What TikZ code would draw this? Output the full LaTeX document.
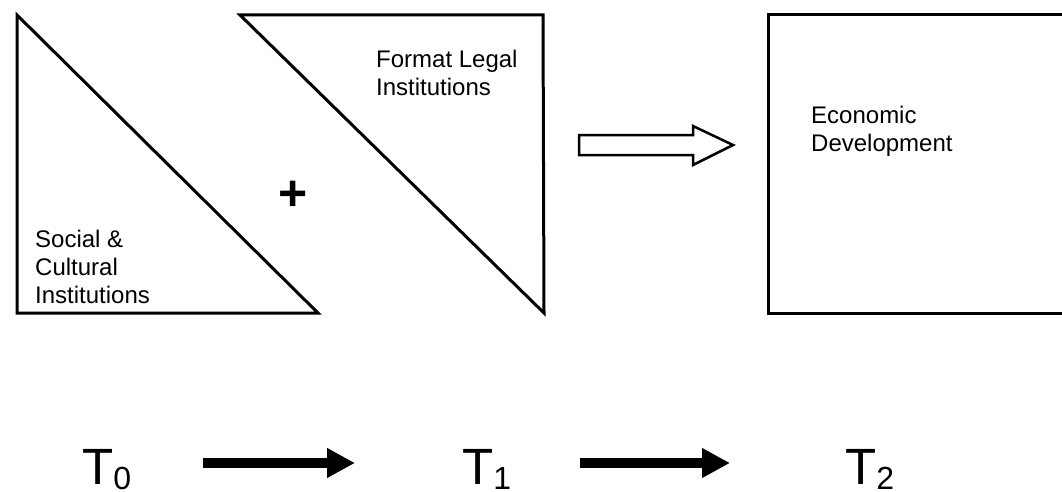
\documentclass[tikz,border=0pt]{standalone}
\usepackage{fontspec}
\setmainfont{Liberation Sans}
\usetikzlibrary{arrows.meta}
\newcommand\tsubscript[1]{\raisebox{-5pt}{\fontsize{32}{32}\selectfont #1}}
\begin{document}
\begin{tikzpicture}[x=1pt,y=-1pt,
  box/.style={line width=3pt, line join=miter},
  lbl/.style={anchor=north west, inner sep=0pt, align=left, font=\fontsize{24}{28}\selectfont},
  tlabel/.style={anchor=base west, inner sep=0pt, font=\fontsize{51}{51}\selectfont},
  timearrow/.style={line width=10pt, -{Triangle[length=28pt,width=28pt]}},
  hollow/.style={line width=2.5pt, line join=miter, fill=white}]
\useasboundingbox (0,0) rectangle (1062,492);
\fill[white] (0,0) rectangle (1062,492);

% social & cultural triangle
\draw[box] (17,15) coordinate (s1) -- (17,313) coordinate (s2) -- (318,313) coordinate (s3) -- cycle;
% formal legal triangle
\draw[box] (240,15) coordinate (f1) -- (543,15) coordinate (f2) -- (544,313) coordinate (f3) -- cycle;
% economic development box (right side runs off the page)
\draw[box] (768,15) rectangle (1070,313);

\node[lbl] (social) at (35,229.5) {Social \&\\Cultural\\Institutions};
\node[lbl] (legal) at (376,49.5) {Format Legal\\Institutions};
\node[lbl] (econ) at (811,105.5) {Economic\\Development};
\node[inner sep=0pt, font=\fontsize{50}{50}\selectfont\bfseries] (plus) at (293,196) {+};

% hollow arrow
\coordinate (hs) at (579,145);
\coordinate (he) at (733,145);
\draw[hollow] (hs) ++(0,-10) -- ++(114,0) -- ++(0,-9) -- (he) -- ++(-40,20) -- ++(0,-10) -- ++(-114,0) -- cycle;

% time line
\node[tlabel] (t0) at (82,484) {T\tsubscript{0}};
\node[tlabel] (t1) at (462,484) {T\tsubscript{1}};
\node[tlabel] (t2) at (845,484) {T\tsubscript{2}};
\coordinate (a1s) at (203,463);
\coordinate (a1e) at (355,463);
\coordinate (a2s) at (580,463);
\coordinate (a2e) at (730,463);
\draw[timearrow] (a1s) -- (a1e);
\draw[timearrow] (a2s) -- (a2e);
\end{tikzpicture}
\end{document}
